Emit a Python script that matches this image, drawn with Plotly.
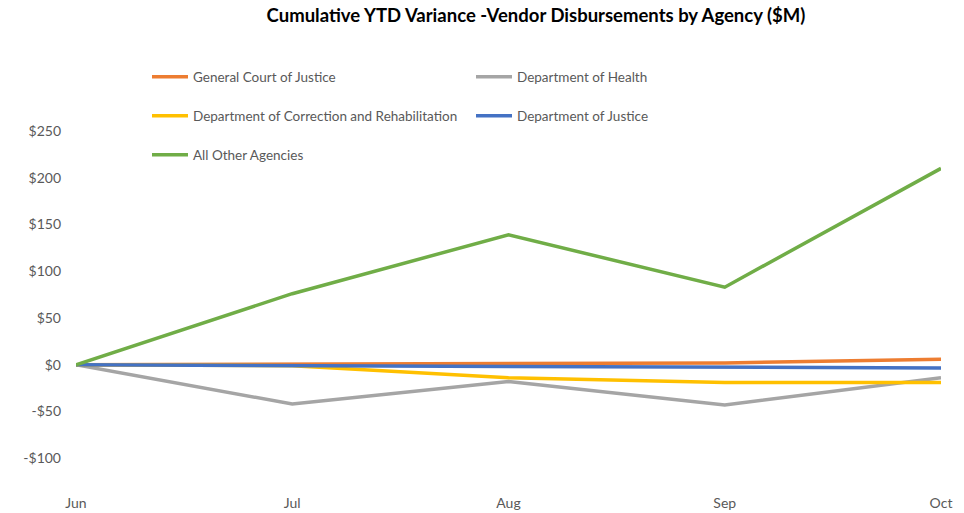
import plotly.graph_objects as go

months = ["Jun", "Jul", "Aug", "Sep", "Oct"]
general_court = [0, 0.5, 1, 2, 6]
dept_health = [0, -42, -18, -43, -14]
dept_correction = [0, -1, -14, -19, -19]
dept_justice = [0, -1, -2, -3, -3.5]
all_other = [0, 76, 139, 83, 210]

series = [
    ("General Court of Justice", general_court, "#ED7D31", "legend"),
    ("Department of Health", dept_health, "#A5A5A5", "legend"),
    ("Department of Correction and Rehabilitation", dept_correction, "#FFC000", "legend2"),
    ("Department of Justice", dept_justice, "#4472C4", "legend2"),
    ("All Other Agencies", all_other, "#70AD47", "legend3"),
]

FONT = "Lato, 'Open Sans', sans-serif"

fig = go.Figure()
for name, vals, color, lg in series:
    fig.add_trace(go.Scatter(
        x=months, y=vals, name=name, mode="lines",
        line=dict(color=color, width=3.5), legend=lg,
    ))

W, H = 964, 513
def legend_cfg(py):
    return dict(
        orientation="h", xref="container", yref="container",
        x=147 / W, y=1 - py / H, xanchor="left", yanchor="middle",
        entrywidth=273, entrywidthmode="pixels", itemwidth=36,
        font=dict(family=FONT, size=13.5, color="#595959"),
        bgcolor="rgba(0,0,0,0)", itemclick=False,
    )

fig.update_layout(
    width=W, height=H,
    paper_bgcolor="white", plot_bgcolor="white",
    margin=dict(l=76, r=23, t=131, b=22, autoexpand=False),
    title=dict(
        text="<b>Cumulative YTD Variance -Vendor Disbursements by Agency ($M)</b>",
        xref="container", yref="container", x=536 / W, y=1 - 16 / H,
        xanchor="center", yanchor="middle",
        font=dict(family=FONT, size=18.5, color="black"),
    ),
    legend=legend_cfg(77),
    legend2=legend_cfg(116),
    legend3=legend_cfg(155),
    showlegend=True,
    xaxis=dict(
        type="category", range=[0, 4], showgrid=False, zeroline=False,
        showline=False, ticks="", tickfont=dict(family=FONT, size=14, color="#595959"),
        ticklabelstandoff=2,
    ),
    yaxis=dict(
        range=[-135, 250], tickvals=[-100, -50, 0, 50, 100, 150, 200, 250],
        ticktext=["-$100", "-$50", "$0", "$50", "$100", "$150", "$200", "$250"],
        showgrid=False, zeroline=False, showline=False, ticks="",
        tickfont=dict(family=FONT, size=14, color="#595959"),
        ticklabelstandoff=14,
    ),
)

fig.write_html(
    "out.html",
    config={"displayModeBar": False},
    post_script="document.body.style.margin='0';document.body.style.overflow='hidden';",
)
